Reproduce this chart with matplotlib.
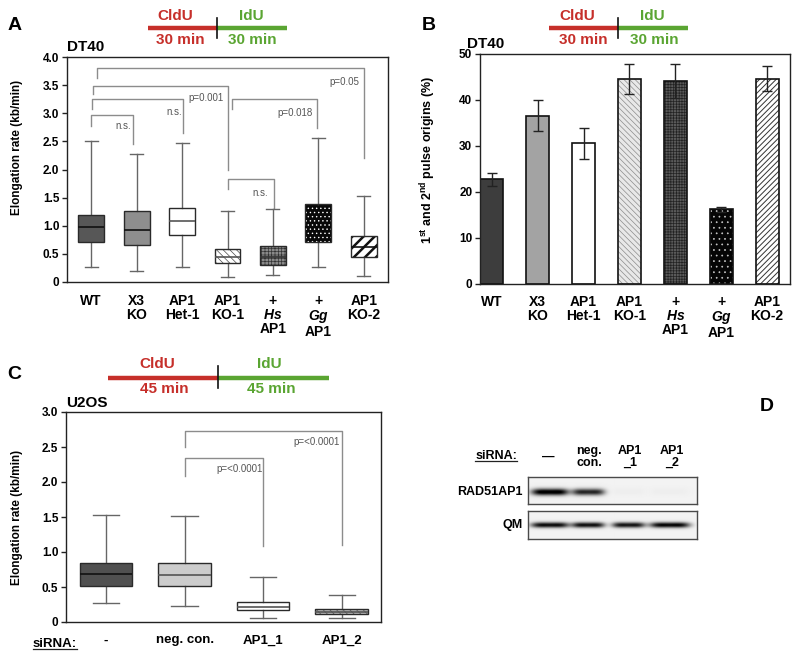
import numpy as np
import matplotlib
matplotlib.use("Agg")
import matplotlib.pyplot as plt
from matplotlib.lines import Line2D
from matplotlib.patches import PathPatch

plt.rcParams['font.family'] = ['Liberation Sans', 'DejaVu Sans']
plt.rcParams['mathtext.fontset'] = 'custom'
plt.rcParams['mathtext.rm'] = 'Liberation Sans:bold'
plt.rcParams['mathtext.it'] = 'Liberation Sans:italic:bold'
plt.rcParams['mathtext.bf'] = 'Liberation Sans:bold'
plt.rcParams['hatch.linewidth'] = 0.5

# ---------------- datos ----------------
# A: DT40, velocidad de elongacion (kb/min)
cats_a = ["WT", "X3\nKO", "AP1\nHet-1", "AP1\nKO-1", "+\n$\\mathit{Hs}$\nAP1",
          "+\n$\\mathit{Gg}$\nAP1", "AP1\nKO-2"]
a_whislo = [0.27, 0.20, 0.27, 0.09, 0.13, 0.27, 0.11]
a_q1 = [0.72, 0.66, 0.83, 0.33, 0.31, 0.72, 0.44]
a_med = [0.98, 0.92, 1.08, 0.45, 0.44, 0.98, 0.62]
a_q3 = [1.19, 1.26, 1.31, 0.59, 0.64, 1.39, 0.82]
a_whishi = [2.50, 2.28, 2.48, 1.26, 1.29, 2.56, 1.53]

# B: % origenes 1er y 2do pulso
cats_b = ["WT", "X3\nKO", "AP1\nHet-1", "AP1\nKO-1", "+\n$\\mathit{Hs}$\nAP1",
          "+\n$\\mathit{Gg}$\nAP1", "AP1\nKO-2"]
b_vals = [22.8, 36.6, 30.6, 44.5, 44.2, 16.2, 44.6]
b_err = [1.4, 3.3, 3.4, 3.3, 3.7, 0.6, 2.7]

# C: U2OS, velocidad de elongacion (kb/min)
cats_c = ["-", "neg. con.", "AP1_1", "AP1_2"]
c_whislo = [0.27, 0.23, 0.06, 0.06]
c_q1 = [0.52, 0.52, 0.17, 0.11]
c_med = [0.68, 0.67, 0.22, 0.15]
c_q3 = [0.85, 0.84, 0.29, 0.18]
c_whishi = [1.53, 1.52, 0.64, 0.39]

# D: western blot (intensidad relativa de banda por carril)
lanes_d = ["\u2014", "neg.\ncon.", "AP1\n_1", "AP1\n_2"]
rad51ap1_int = [1.0, 0.80, 0.02, 0.02]
qm_int = [0.90, 0.88, 0.86, 0.93]

# brackets: (x izq, x der, y tope, y fin izq, y fin der, texto, x texto, y texto)
brackets_a = [
    (1.13, 7.0, 3.81, 3.62, 2.20, "p=0.05", 6.58, 3.56),
    (1.04, 4.0, 3.48, 3.34, 1.99, "p=0.001", 3.53, 3.27),
    (1.02, 3.02, 3.25, 3.08, 2.65, "n.s.", 2.82, 3.02),
    (1.0, 1.93, 2.97, 2.77, 2.45, "n.s.", 1.70, 2.77),
    (4.09, 5.96, 3.25, 3.07, 2.73, "p=0.018", 5.48, 3.00),
    (4.0, 5.03, 1.83, 1.65, 1.31, "n.s.", 4.71, 1.58),
]
brackets_c = [
    (2.0, 4.0, 2.73, 2.50, 1.10, "p=<0.0001", 3.68, 2.57),
    (2.0, 3.0, 2.34, 2.09, 1.09, "p=<0.0001", 2.70, 2.19),
]

RED = "#c62f2a"
GREEN = "#5aa532"
W, H = 800, 657

fig = plt.figure(figsize=(8, 6.57), dpi=100)


def add_axes_px(x0, y0, x1, y1):
    return fig.add_axes([x0 / W, 1 - y1 / H, (x1 - x0) / W, (y1 - y0) / H])


def ftext(x, y, s, **kw):
    return fig.text(x / W, 1 - y / H, s, **kw)


def timeline(x0, xm, x1, y, t0, t1, top, bot, lab):
    fig.add_artist(Line2D([x0 / W, xm / W], [1 - y / H] * 2, color=RED, lw=3.2, solid_capstyle='butt'))
    fig.add_artist(Line2D([xm / W, x1 / W], [1 - y / H] * 2, color=GREEN, lw=3.2, solid_capstyle='butt'))
    fig.add_artist(Line2D([xm / W] * 2, [1 - t0 / H, 1 - t1 / H], color='#111111', lw=1.2))
    ftext(lab[0], top, "CldU", color=RED, fontsize=11, weight='bold', ha='center', va='baseline')
    ftext(lab[1], bot, lab[4], color=RED, fontsize=11, weight='bold', ha='center', va='baseline')
    ftext(lab[2], top, "IdU", color=GREEN, fontsize=11, weight='bold', ha='center', va='baseline')
    ftext(lab[3], bot, lab[4], color=GREEN, fontsize=11, weight='bold', ha='center', va='baseline')


def style_axes(ax, xsize=10):
    for s in ax.spines.values():
        s.set_linewidth(1.0)
        s.set_color('#222222')
    ax.tick_params(axis='y', direction='out', length=3.5, width=1, pad=2, labelsize=8.5, color='#222222')
    ax.tick_params(axis='x', length=0, labelsize=xsize)
    for t in ax.get_yticklabels():
        t.set_fontweight('bold')


def bracket(ax, b):
    x0, x1, yt, y0, y1, lab, lx, ly = b
    ax.plot([x0, x0, x1, x1], [y0, yt, yt, y1], color='#8c8c8c', lw=1, zorder=1)
    ax.text(lx, ly, lab, ha='center', va='center', fontsize=7, color='#555555')


def draw_boxes(ax, lo, q1, med, q3, hi, width, styles, medcols, whiskcol):
    stats = [dict(whislo=a, q1=b, med=c, q3=d, whishi=e, fliers=[])
             for a, b, c, d, e in zip(lo, q1, med, q3, hi)]
    pos = np.arange(1, len(stats) + 1)
    bp = ax.bxp(stats, positions=pos, widths=width, patch_artist=True, showfliers=False,
                whiskerprops=dict(color=whiskcol, lw=1), capprops=dict(color=whiskcol, lw=1),
                medianprops=dict(lw=1.2))
    for box, (face, hatch, hcol, hlw), mc, m in zip(bp['boxes'], styles, medcols, bp['medians']):
        box.set_facecolor(face)
        box.set_edgecolor(hcol)
        box.set_linewidth(0)
        if hatch:
            box.set_hatch(hatch)
            if hasattr(box, 'set_hatch_linewidth'):
                box.set_hatch_linewidth(hlw)
        ax.add_patch(PathPatch(box.get_path(), fill=False, edgecolor='#2a2a2a', lw=1,
                               transform=ax.transData, zorder=box.get_zorder() + 0.05))
        m.set_color(mc)
    return pos


# ---------------- A ----------------
ax_a = add_axes_px(67, 57, 388, 282)
styles_a = [('#575757', None, '#575757', 0.5), ('#8e8e8e', None, '#8e8e8e', 0.5),
            ('white', None, 'white', 0.5), ('white', '\\\\\\\\\\', '#4a4a4a', 0.5),
            ('#8a8a8a', '+++++', '#333333', 0.5), ('#080808', '....', 'white', 0.5),
            ('white', '///', '#111111', 1.8)]
pos_a = draw_boxes(ax_a, a_whislo, a_q1, a_med, a_q3, a_whishi, 0.57, styles_a,
                   ['#111111', '#111111', '#555555', '#555555', '#333333', '#080808', '#111111'], '#666666')
for b in brackets_a:
    bracket(ax_a, b)
ax_a.set_xlim(0.47, 7.53)
ax_a.set_ylim(0, 4.0)
ticks = np.arange(0, 4.01, 0.5)
ax_a.set_yticks(ticks, ['0'] + [f'{t:.1f}' for t in ticks[1:]])
ax_a.set_xticks(pos_a, cats_a)
style_axes(ax_a)
ax_a.tick_params(axis='x', pad=8.5)
for t in ax_a.get_xticklabels():
    t.set_fontweight('bold')
    t.set_linespacing(1.0)

ftext(17, 147, "Elongation rate (kb/min)", rotation=90, ha='center', va='center', fontsize=8.5, weight='bold')
ftext(67, 51, "DT40", fontsize=11, weight='bold', ha='left', va='baseline')
ftext(8, 30, "A", fontsize=14, weight='bold', ha='left', va='baseline')
timeline(148, 217, 287, 28, 18, 38, 20, 44, (175, 180, 251, 252, "30 min"))

# ---------------- B ----------------
ax_b = add_axes_px(480, 54, 790, 284)
styles_b = [('#3d3d3d', None, '#3d3d3d', 0.5), ('#a3a3a3', None, '#a3a3a3', 0.5),
            ('white', None, 'white', 0.5), ('#e8e8e8', '\\\\\\\\\\\\', '#8c8c8c', 0.5),
            ('#5a5a5a', '++++++', '#222222', 0.5), ('#050505', '...', '#c8c8c8', 0.5),
            ('white', '//////', '#333333', 0.7)]
pos_b = np.arange(1, len(b_vals) + 1)
bars = ax_b.bar(pos_b, b_vals, width=0.5, lw=0, zorder=2)
for bar, (face, hatch, hcol, hlw) in zip(bars, styles_b):
    bar.set_facecolor(face)
    bar.set_edgecolor(hcol)
    if hatch:
        bar.set_hatch(hatch)
        if hasattr(bar, 'set_hatch_linewidth'):
            bar.set_hatch_linewidth(hlw)
ax_b.bar(pos_b, b_vals, width=0.5, fill=False, edgecolor='#111111', lw=1.2, zorder=2.1)
ax_b.errorbar(pos_b, b_vals, yerr=b_err, fmt='none', ecolor='#222222', elinewidth=1,
              capsize=3.5, capthick=1, zorder=3)
ax_b.set_xlim(0.74, 7.5)
ax_b.set_ylim(0, 50)
ax_b.set_yticks(np.arange(0, 51, 10))
ax_b.set_xticks(pos_b, cats_b)
style_axes(ax_b)
ax_b.tick_params(axis='x', pad=8)
for t in ax_b.get_xticklabels():
    t.set_fontweight('bold')
    t.set_linespacing(1.0)
ftext(428, 160, "1$^{\\mathbf{st}}$ and 2$^{\\mathbf{nd}}$ pulse origins (%)", rotation=90,
      ha='center', va='center', fontsize=9, weight='bold')
ftext(467, 48, "DT40", fontsize=11, weight='bold', ha='left', va='baseline')
ftext(422, 30, "B", fontsize=14, weight='bold', ha='left', va='baseline')
timeline(549, 618, 688, 28, 18, 38, 20, 44, (577, 583, 652, 654, "30 min"))

# ---------------- C ----------------
ax_c = add_axes_px(66, 412, 381, 622)
styles_c = [('#505050', None, '#505050', 0.5), ('#cccccc', None, '#cccccc', 0.5),
            ('white', None, 'white', 0.5), ('#bdbdbd', '\\\\\\\\\\', '#555555', 0.5)]
pos_c = draw_boxes(ax_c, c_whislo, c_q1, c_med, c_q3, c_whishi, 0.67, styles_c,
                   ['#111111', '#555555', '#555555', '#555555'], '#666666')
for b in brackets_c:
    bracket(ax_c, b)
ax_c.set_xlim(0.49, 4.5)
ax_c.set_ylim(0, 3.0)
ticks = np.arange(0, 3.01, 0.5)
ax_c.set_yticks(ticks, ['0'] + [f'{t:.1f}' for t in ticks[1:]])
ax_c.set_xticks(pos_c, cats_c)
style_axes(ax_c, xsize=9.5)
ax_c.tick_params(axis='x', pad=9)
for t in ax_c.get_xticklabels():
    t.set_fontweight('bold')
ftext(17, 517, "Elongation rate (kb/min)", rotation=90, ha='center', va='center', fontsize=8.5, weight='bold')
ftext(66, 407, "U2OS", fontsize=11, weight='bold', ha='left', va='baseline')
ftext(7, 379, "C", fontsize=14, weight='bold', ha='left', va='baseline')
timeline(108, 218, 329, 378, 366, 388, 368, 393, (157, 164, 269, 271, "45 min"))
si_c = ftext(55, 647, "siRNA:", fontsize=9.5, weight='bold', ha='center', va='baseline')

# ---------------- D ----------------
ax_d1 = add_axes_px(528, 477, 697, 504)
ax_d2 = add_axes_px(528, 511, 697, 539)
lane_x = [22, 60, 100, 141]


def blot(ax, amps, widths, w, h, yc, sy):
    X, Y = np.meshgrid(np.arange(w) + 0.5, np.arange(h) + 0.5)
    img = np.full(X.shape, 0.05)
    for cx, amp, bw in zip(lane_x, amps, widths):
        prof = np.exp(-np.abs((X - cx) / (bw / 2)) ** 4)
        edge = 1 + 0.25 * np.abs((X - cx) / (bw / 2)) ** 2
        img += amp * prof * edge * np.exp(-((Y - yc) / sy) ** 2)
    ax.imshow(np.clip(img, 0, 1), cmap='gray_r', vmin=0, vmax=1, aspect='auto',
              interpolation='bilinear', extent=(0, w, h, 0))
    ax.set_xticks([])
    ax.set_yticks([])
    for s in ax.spines.values():
        s.set_color('#4a4a4a')
        s.set_linewidth(1.0)


blot(ax_d1, rad51ap1_int, [35, 31, 31, 36], 169, 27, 15, 3.4)
blot(ax_d2, qm_int, [36, 31, 31, 38], 169, 28, 14, 2.8)

for lx, lab in zip([548, 589, 630, 672], lanes_d):
    ftext(lx, 457, lab, fontsize=9, weight='bold', ha='center', va='center', linespacing=1.0)
si_d = ftext(496, 459, "siRNA:", fontsize=9, weight='bold', ha='center', va='baseline')
ftext(523, 492, "RAD51AP1", fontsize=9, weight='bold', ha='right', va='center')
ftext(523, 525, "QM", fontsize=9, weight='bold', ha='right', va='center')
ftext(760, 411, "D", fontsize=14, weight='bold', ha='left', va='baseline')

# subrayado de "siRNA:"
fig.canvas.draw()
r = fig.canvas.get_renderer()
for t, yb in [(si_c, 647), (si_d, 459)]:
    bb = t.get_window_extent(r)
    fig.add_artist(Line2D([bb.x0 / W, bb.x1 / W], [1 - (yb + 2) / H] * 2, color='#222222', lw=0.9))

fig.savefig("out.png", dpi=100)
